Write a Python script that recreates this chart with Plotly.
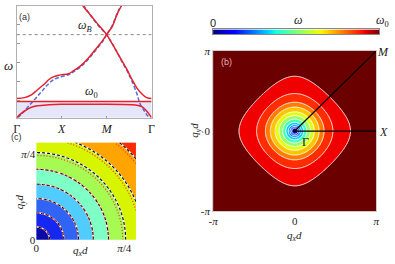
import numpy as np
import plotly.graph_objects as go

W, H = 395, 264
PI = np.pi

# ---------------- Panel (a): dispersion along Gamma-X-M-Gamma ----------------
k_ticks = [0, 1, 2, 3]
k_labels = ["Γ", "<i>X</i>", "<i>M</i>", "Γ"]
omega0 = 1.0
omegaB = 5.118

k_red1 = [0, 0.174, 0.326, 0.457, 0.609, 0.717, 0.826, 0.935, 1.0, 1.152, 1.261,
          1.413, 1.587, 1.761, 1.913, 2.0, 2.130, 2.239, 2.326, 2.37]
w_red1 = [1.176, 1.235, 1.412, 1.706, 2.059, 2.353, 2.529, 2.618, 2.647, 2.706, 2.882,
          3.176, 3.647, 4.235, 4.765, 5.118, 5.647, 6.412, 6.882, 7.18]
k_red2 = [1.435, 1.478, 1.630, 1.804, 2.0, 2.130, 2.239, 2.348, 2.457, 2.565,
          2.674, 2.783, 2.891, 3.0]
w_red2 = [7.12, 6.882, 6.353, 5.765, 5.118, 4.529, 4.0, 3.471, 2.941, 2.353,
          1.824, 1.471, 1.235, 1.176]
k_blue1 = [0.022, 0.130, 0.283, 0.435, 0.565, 0.674, 0.826, 1.0, 1.174, 1.261,
           1.413, 1.587, 1.761, 1.913, 2.0, 2.130, 2.239, 2.33]
w_blue1 = [0, 0.294, 0.765, 1.235, 1.647, 2.0, 2.353, 2.529, 2.676, 2.824,
           3.118, 3.588, 4.176, 4.706, 5.118, 5.706, 6.47, 6.94]
k_blue2 = [1.478, 1.630, 1.804, 2.0, 2.130, 2.239, 2.348, 2.457, 2.565, 2.674,
           2.739, 2.826, 2.913, 2.957]
w_blue2 = [6.94, 6.353, 5.706, 5.118, 4.53, 4.0, 3.41, 2.88, 2.235, 1.47,
           0.882, 0.47, 0.118, 0]
k_low = [0, 0.087, 0.174, 0.326, 0.457, 0.717, 1.0, 2.0, 2.565, 2.674, 2.783,
         2.870, 2.957, 3.0]
w_low = [0, 0.235, 0.412, 0.647, 0.735, 0.794, 0.824, 0.824, 0.794, 0.765, 0.676,
         0.47, 0.176, 0]

# ---------------- Panel (b): contour radii along q_x (units of pi) ----------------
b_radii = [0.019, 0.038, 0.057, 0.079, 0.108, 0.148, 0.192, 0.240, 0.299, 0.359, 0.467, 0.683]
b_colors = ["#00009a", "#0008ff", "#0044ff", "#0088ff", "#08c8ff", "#48ffb8",
            "#98ff66", "#e2ff16", "#ffc400", "#ff7c00", "#ff2c00", "#f00000", "#6a0000"]

# ---------------- Panel (c): zoomed contours (q d) ----------------
c_radii = [0.118, 0.246, 0.377, 0.509, 0.645, 0.798, 0.956, 1.158]
c_radii_red = [0.118, 0.246, 0.377, 0.509, 0.645, 0.772, 0.930, 1.131]
c_colors = ["#0a0aa8", "#1428f0", "#2f64f5", "#50ccff", "#7dffc6", "#a6fb52",
            "#d7f500", "#ffa400", "#ff2a00"]
c_range = 0.89


def jet(v):
    r = np.interp(v, [0, 0.35, 0.66, 0.89, 1], [0, 0, 1, 1, 0.5])
    g = np.interp(v, [0, 0.125, 0.375, 0.64, 0.91, 1], [0, 0, 1, 1, 0, 0])
    b = np.interp(v, [0, 0.11, 0.34, 0.65, 1], [0.5, 1, 1, 0, 0])
    return "rgb(%d,%d,%d)" % (r * 255, g * 255, b * 255)


def step_scale(cols):
    n = len(cols)
    sc = []
    for i, c in enumerate(cols):
        sc.append([i / n, c])
        sc.append([(i + 1) / n, c])
    return sc


def xp(px):
    return px / W


def yp(py):
    return 1 - py / H


fig = go.Figure()
RED = "#e8202a"
BLUE = "#4a6ee0"

# panel (a)
fig.add_trace(go.Scatter(x=[0, 3], y=[omega0, omega0], fill="tozeroy", mode="none",
                         fillcolor="rgba(205,205,245,0.5)", xaxis="x", yaxis="y"))
fig.add_trace(go.Scatter(x=[0, 3], y=[omegaB, omegaB], mode="lines",
                         line=dict(color="#888888", width=1, dash="dot"), xaxis="x", yaxis="y"))
for kk, ww in [(k_blue1, w_blue1), (k_blue2, w_blue2)]:
    fig.add_trace(go.Scatter(x=kk, y=ww, mode="lines", line=dict(color=BLUE, width=1.5, dash="4px,2px", shape="spline"),
                             xaxis="x", yaxis="y"))
for kk, ww in [(k_red1, w_red1), (k_red2, w_red2), (k_low, w_low)]:
    fig.add_trace(go.Scatter(x=kk, y=ww, mode="lines", line=dict(color=RED, width=1.5, shape="spline"),
                             xaxis="x", yaxis="y"))
fig.add_trace(go.Scatter(x=[0, 3], y=[omega0, omega0], mode="lines",
                         line=dict(color=RED, width=1.5), xaxis="x", yaxis="y"))

# panel (b)
N = 401
q = np.linspace(-PI, PI, N)
QX, QY = np.meshgrid(q, q)
qeq = np.arccos(np.clip(np.cos(QX) + np.cos(QY) - 1, -1, 1))
rb = np.array(b_radii) * PI
band_b = np.searchsorted(rb, qeq)
nb = len(rb)
Lb = np.interp(qeq, np.r_[0, rb, PI], np.r_[0, np.arange(1, nb + 1), nb + 1])
fig.add_trace(go.Heatmap(z=band_b, x=q, y=q, colorscale=step_scale(b_colors), zmin=-0.5,
                         zmax=len(b_colors) - 0.5, showscale=False, xaxis="x2", yaxis="y2", hoverinfo="skip"))
fig.add_trace(go.Contour(z=Lb, x=q, y=q, contours=dict(start=1, end=nb, size=1, coloring="none"),
                         line=dict(color="white", width=1), showscale=False, xaxis="x2", yaxis="y2",
                         hoverinfo="skip"))
fig.add_trace(go.Scatter(x=[PI, 0, PI], y=[PI, 0, 0], mode="lines", line=dict(color="black", width=1.2),
                         xaxis="x2", yaxis="y2", cliponaxis=False))
fig.add_trace(go.Scatter(x=[0], y=[0], mode="markers", marker=dict(color="#000033", size=4),
                         xaxis="x2", yaxis="y2"))

# colorbar
cbv = np.linspace(0, 1, 256)
fig.add_trace(go.Heatmap(z=[cbv], x=cbv, y=[0], colorscale=[[v, jet(v)] for v in np.linspace(0, 1, 41)],
                         showscale=False, xaxis="x4", yaxis="y4", hoverinfo="skip"))

# panel (c)
Nc = 301
qc = np.linspace(0, c_range, Nc)
CX, CY = np.meshgrid(qc, qc)
R = np.sqrt(CX ** 2 + CY ** 2)
rc = np.array(c_radii)
band_c = np.searchsorted(rc, R)
nc = len(rc)
Lc = np.interp(R, np.r_[0, rc, 2.0], np.r_[0, np.arange(1, nc + 1), nc + 1])
rcr = np.array(c_radii_red)
Lcr = np.interp(R, np.r_[0, rcr, 2.0], np.r_[0, np.arange(1, nc + 1), nc + 1])
fig.add_trace(go.Heatmap(z=band_c, x=qc, y=qc, colorscale=step_scale(c_colors), zmin=-0.5,
                         zmax=len(c_colors) - 0.5, showscale=False, xaxis="x3", yaxis="y3", hoverinfo="skip"))
fig.add_trace(go.Contour(z=Lc, x=qc, y=qc, contours=dict(start=1, end=nc, size=1, coloring="none"),
                         line=dict(color="white", width=1.5), showscale=False, xaxis="x3", yaxis="y3",
                         hoverinfo="skip"))
fig.add_trace(go.Contour(z=Lc, x=qc, y=qc, contours=dict(start=1, end=nc, size=1, coloring="none"),
                         line=dict(color="black", width=1.1, dash="3px,2px"), showscale=False, xaxis="x3",
                         yaxis="y3", hoverinfo="skip"))
fig.add_trace(go.Contour(z=Lcr, x=qc, y=qc, contours=dict(start=1, end=nc, size=1, coloring="none"),
                         line=dict(color="#ff3030", width=1.3, dash="1px,2px"), showscale=False, xaxis="x3",
                         yaxis="y3", hoverinfo="skip"))

SERIF = "Liberation Serif"
SANS = "Liberation Sans"
frame = dict(showline=True, linecolor="#b0b0b0", linewidth=1, mirror=True, showgrid=False, zeroline=False)

fig.update_layout(
    width=W, height=H, margin=dict(l=0, r=0, t=0, b=0), paper_bgcolor="white", plot_bgcolor="white",
    showlegend=False,
    xaxis=dict(domain=[xp(12), xp(150)], range=[0, 3], anchor="y", tickvals=k_ticks, ticktext=k_labels,
               ticks="inside", ticklen=2, tickcolor="#999", tickfont=dict(family=SERIF, size=12, color="#222"),
               **frame),
    yaxis=dict(domain=[yp(117), yp(0)], range=[0, 117 / 17], anchor="x", tickmode="linear",
               tick0=18 / 17, dtick=20 / 17, ticks="inside", ticklen=3, tickcolor="#999", showticklabels=False,
               **frame),
    xaxis2=dict(domain=[xp(213), xp(380)], range=[-PI, PI], anchor="y2", tickvals=[-PI, 0, PI],
                ticktext=["-<i>π</i>", "0", "<i>π</i>"], ticks="", tickfont=dict(family=SERIF, size=11, color="#222"),
                showline=True, linecolor="#ccc", mirror=True, showgrid=False, zeroline=False),
    yaxis2=dict(domain=[yp(215), yp(47)], range=[-PI, PI], anchor="x2", tickvals=[-PI, 0, PI],
                ticktext=["-<i>π</i>", "0", "<i>π</i>"], ticks="", tickfont=dict(family=SERIF, size=11, color="#222"),
                showline=True, linecolor="#ccc", mirror=True, showgrid=False, zeroline=False),
    xaxis3=dict(domain=[xp(32), xp(134)], range=[0, c_range], anchor="y3", tickvals=[0, PI / 4],
                ticktext=["0", "<i>π</i>/4"], ticks="", tickfont=dict(family=SERIF, size=11, color="#222"),
                showgrid=False, zeroline=False, showline=False),
    yaxis3=dict(domain=[yp(245), yp(143)], range=[0, c_range], anchor="x3", tickvals=[0, PI / 4],
                ticktext=["0", "<i>π</i>/4"], ticks="", tickfont=dict(family=SERIF, size=11, color="#222"),
                showgrid=False, zeroline=False, showline=False),
    xaxis4=dict(domain=[xp(213), xp(383)], range=[0, 1], anchor="y4", showticklabels=False, ticks="",
                showline=True, linecolor="#888", mirror=True, showgrid=False, zeroline=False),
    yaxis4=dict(domain=[yp(29.5), yp(24.5)], range=[-0.5, 0.5], anchor="x4", showticklabels=False, ticks="",
                showline=True, linecolor="#888", mirror=True, showgrid=False, zeroline=False),
)


def ann(text, x, y, size=11, family=SERIF, color="#222", angle=0, xanchor="center"):
    fig.add_annotation(text=text, x=xp(x), y=yp(y), xref="paper", yref="paper", showarrow=False,
                       font=dict(family=family, size=size, color=color), textangle=angle,
                       xanchor=xanchor, yanchor="middle")


ann("(a)", 20, 12, size=9, family=SANS, color="#333")
ann("<i>ω</i><sub><i>B</i></sub>", 82, 21, size=12)
ann("<i>ω</i><sub>0</sub>", 89, 90, size=12)
ann("<i>ω</i>", 4, 62, size=13)
ann("(b)", 227, 59, size=9, family=SANS, color="#e8b0b0")
ann("<i>M</i>", 395, 48, size=12, xanchor="right")
ann("<i>X</i>", 394, 132, size=12, xanchor="right")
ann("Γ", 308, 142, size=12)
ann("0", 213, 18, size=11, family=SANS)
ann("<i>ω</i>", 300, 15, size=12)
ann("<i>ω</i><sub>0</sub>", 395, 16, size=12, xanchor="right")
ann("<i>q<sub>x</sub>d</i>", 296, 241, size=11)
ann("<i>q<sub>y</sub>d</i>", 195, 130, size=11, angle=-90)
ann("(c)", 12, 137, size=9, family=SANS, color="#333")
ann("<i>q<sub>x</sub>d</i>", 77, 257, size=11)
ann("<i>q<sub>y</sub>d</i>", 15, 205, size=11, angle=-90)

fig.write_html("out.html", config={"displayModeBar": False},
               post_script="document.body.style.margin='0';document.body.style.overflow='hidden';")
